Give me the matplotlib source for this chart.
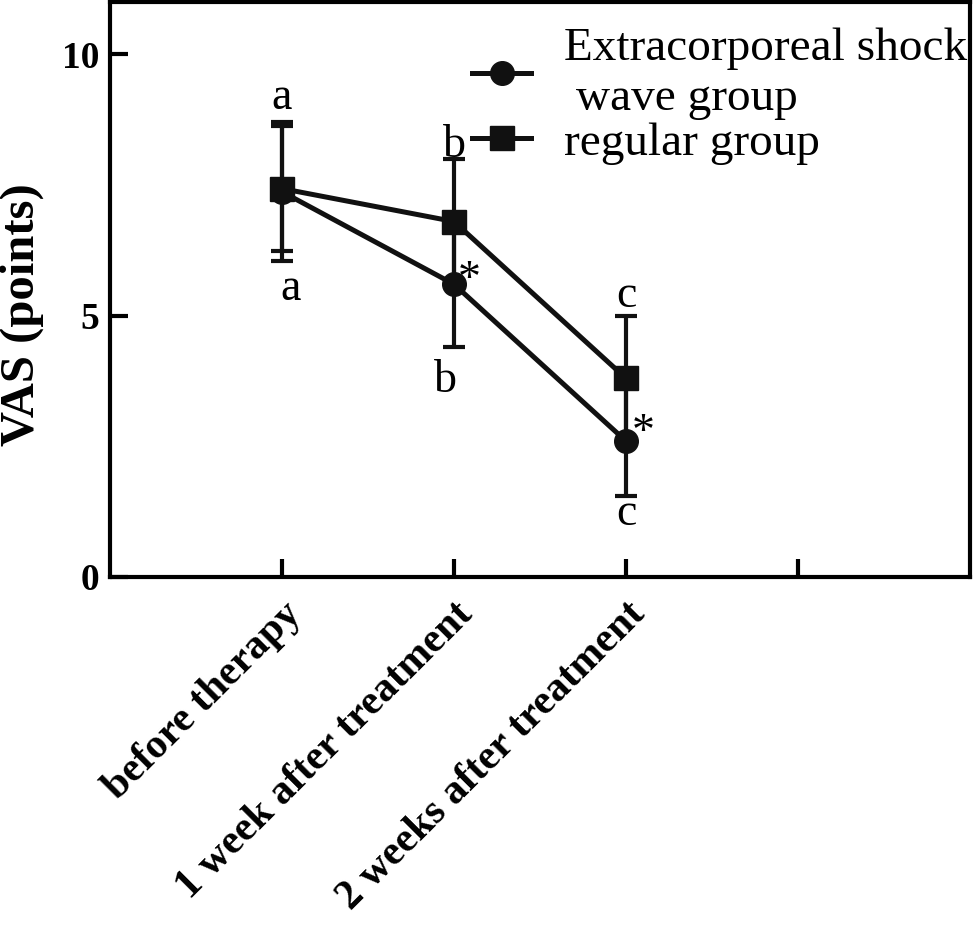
import matplotlib.pyplot as plt

# VAS scores (points) at each time point
timepoints = ['before therapy', '1 week after treatment', '2 weeks after treatment']
esw_mean = [7.37, 5.6, 2.6]
esw_sd = [1.33, 1.2, 1.05]
regular_mean = [7.43, 6.8, 3.8]
regular_sd = [1.2, 1.2, 1.2]

# significance letters / stars: (text, x, y)
annotations = [
    ('a', 1.0, 8.95), ('a', 1.05, 5.3),
    ('b', 2.0, 8.03), ('b', 1.95, 3.54),
    ('c', 3.0, 5.17), ('c', 3.0, 1.0),
]
stars = [(2.09, 5.45), (3.1, 2.52)]

plt.rcParams['font.family'] = ['Liberation Serif', 'DejaVu Serif']

fig = plt.figure(figsize=(9.75, 9.25), dpi=100)
ax = fig.add_axes([110 / 975, 1 - 577 / 925, 860 / 975, 575 / 925])

x = [1, 2, 3]
# error bars first, markers drawn over them
ax.errorbar(x, esw_mean, yerr=esw_sd, fmt='none', ecolor='#111111',
            elinewidth=3, capsize=8, capthick=3, zorder=2)
ax.errorbar(x, regular_mean, yerr=regular_sd, fmt='none', ecolor='#111111',
            elinewidth=3, capsize=8, capthick=3, zorder=2)

ax.plot(x, esw_mean, color='#111111', lw=3.6, marker='o', markersize=17,
        label='Extracorporeal shock\n wave group', zorder=3)
ax.plot(x, regular_mean, color='#111111', lw=3.6, marker='s', markersize=17,
        label='regular group', zorder=4)

for txt, tx, ty in annotations:
    ax.text(tx, ty, txt, ha='center', va='baseline', fontsize=33)
for sx, sy in stars:
    ax.text(sx, sy, '*', ha='center', va='baseline', fontsize=33)

ax.set_xlim(0, 5)
ax.set_ylim(0, 11)
ax.set_xticks([1, 2, 3, 4])
ax.set_xticklabels(timepoints + [''], rotation=45, ha='right',
                   rotation_mode='anchor', fontsize=30, fontweight='bold')
ax.set_yticks([0, 5, 10])
ax.set_yticklabels(['0', '5', '10'], fontsize=27, fontweight='bold')
ax.tick_params(direction='in', length=13, width=3)
ax.tick_params(axis='y', pad=8)
ax.tick_params(axis='x', pad=13)
for s in ax.spines.values():
    s.set_linewidth(3)

ax.set_ylabel('VAS (points)', fontsize=35, fontweight='bold')
ax.yaxis.set_label_coords(-0.077, 0.456)

ax.legend(loc='upper left', bbox_to_anchor=(472 / 975, 1 - 28 / 925),
          bbox_transform=fig.transFigure, frameon=False, fontsize=34,
          borderpad=0, borderaxespad=0, handlelength=1.25, handletextpad=0.7,
          labelspacing=0.05)

fig.savefig('out.png', dpi=100)
